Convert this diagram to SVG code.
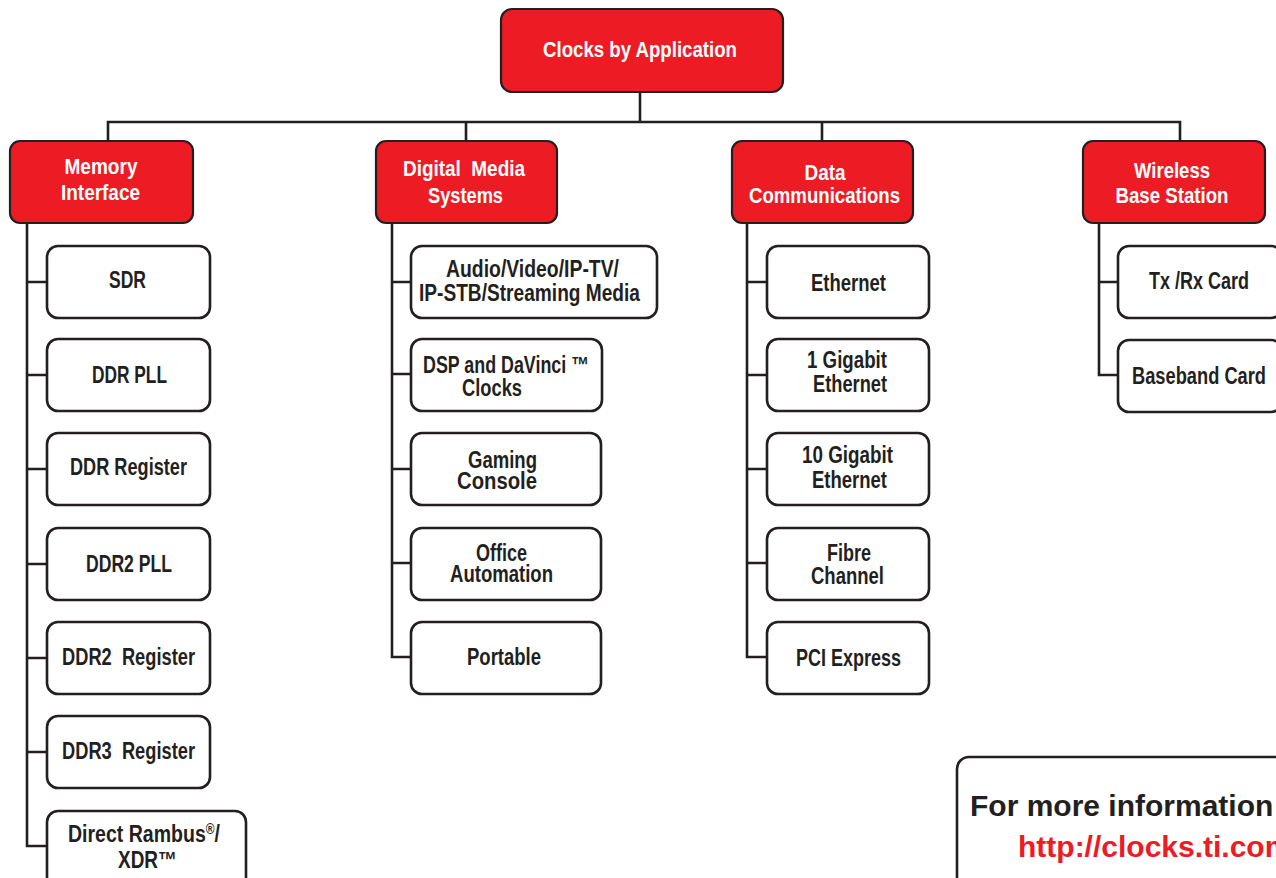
<svg xmlns="http://www.w3.org/2000/svg" width="1276" height="878" viewBox="0 0 1276 878">
<style>
.red{fill:#ed1c24;stroke:#231f20;stroke-width:2.2}
.box{fill:#fff;stroke:#231f20;stroke-width:2.6}
.wt{font-family:"Liberation Sans",Arial,sans-serif;font-weight:bold;font-size:22px;fill:#fff;text-anchor:middle;white-space:pre}
.bt{font-family:"Liberation Sans",Arial,sans-serif;font-weight:bold;font-size:23px;fill:#231f20;text-anchor:middle;white-space:pre}
.bl{font-family:"Liberation Sans",Arial,sans-serif;font-weight:bold;font-size:23px;fill:#231f20;white-space:pre}
.ln{fill:none;stroke:#231f20;stroke-width:2.6}
</style>
<rect width="1276" height="878" fill="#fff"/>
<g id="connectors">
<path class="ln" d="M640 92V122M108 141V122H1180V141M466 122V141M822 122V141"/>
<path class="ln" d="M27 223V846H47M27 282H47M27 375H47M27 469H47M27 564H47M27 658H47M27 752H47"/>
<path class="ln" d="M392 223V657H411M392 282H411M392 374H411M392 469H411M392 563H411"/>
<path class="ln" d="M747 223V657H767M747 282H767M747 375H767M747 469H767M747 563H767"/>
<path class="ln" d="M1099 223V375H1118M1099 282H1118"/>
</g>
<g id="root">
<rect class="red" x="501" y="9" width="282" height="83" rx="11"/>
<text class="wt" x="640" y="57" font-size="23" textLength="194" lengthAdjust="spacingAndGlyphs">Clocks by Application</text>
</g>
<g id="memory">
<rect class="red" x="10" y="141" width="183" height="82" rx="10"/>
<text class="wt" x="101" y="174" textLength="73" lengthAdjust="spacingAndGlyphs">Memory</text>
<text class="wt" x="100.5" y="200" textLength="79" lengthAdjust="spacingAndGlyphs">Interface</text>
</g>
<g id="digital">
<rect class="red" x="376" y="141" width="181" height="82" rx="10"/>
<text class="wt" x="464" y="176" textLength="122" lengthAdjust="spacingAndGlyphs">Digital  Media</text>
<text class="wt" x="465.5" y="203" textLength="75" lengthAdjust="spacingAndGlyphs">Systems</text>
</g>
<g id="datacomm">
<rect class="red" x="732" y="141" width="181" height="82" rx="10"/>
<text class="wt" x="825" y="180" textLength="41" lengthAdjust="spacingAndGlyphs">Data</text>
<text class="wt" x="824.5" y="203" textLength="151" lengthAdjust="spacingAndGlyphs">Communications</text>
</g>
<g id="wireless">
<rect class="red" x="1083" y="141" width="182" height="82" rx="10"/>
<text class="wt" x="1172" y="178" textLength="76" lengthAdjust="spacingAndGlyphs">Wireless</text>
<text class="wt" x="1172" y="203" textLength="113" lengthAdjust="spacingAndGlyphs">Base Station</text>
</g>
<g id="sdr"><rect class="box" x="47" y="246" width="163" height="72" rx="11"/>
<text class="bt" x="127.5" y="288" textLength="37" lengthAdjust="spacingAndGlyphs">SDR</text></g>
<g id="ddrpll"><rect class="box" x="47" y="339" width="163" height="72" rx="11"/>
<text class="bt" x="129.5" y="383" textLength="75" lengthAdjust="spacingAndGlyphs">DDR PLL</text></g>
<g id="ddrreg"><rect class="box" x="47" y="433" width="163" height="72" rx="11"/>
<text class="bt" x="128.5" y="475" textLength="117" lengthAdjust="spacingAndGlyphs">DDR Register</text></g>
<g id="ddr2pll"><rect class="box" x="47" y="528" width="163" height="72" rx="11"/>
<text class="bt" x="129" y="572" textLength="86" lengthAdjust="spacingAndGlyphs">DDR2 PLL</text></g>
<g id="ddr2reg"><rect class="box" x="47" y="622" width="163" height="72" rx="11"/>
<text class="bt" x="128.5" y="665" textLength="133" lengthAdjust="spacingAndGlyphs">DDR2  Register</text></g>
<g id="ddr3reg"><rect class="box" x="47" y="716" width="163" height="72" rx="11"/>
<text class="bt" x="128.5" y="759" textLength="133" lengthAdjust="spacingAndGlyphs">DDR3  Register</text></g>
<g id="rambus"><rect class="box" x="47" y="811" width="199" height="80" rx="11"/>
<text class="bl" x="68" y="842" textLength="152" lengthAdjust="spacingAndGlyphs">Direct Rambus<tspan font-size="14" dy="-8">®</tspan><tspan dy="8">/</tspan></text>
<text class="bl" x="118" y="868" textLength="59" lengthAdjust="spacingAndGlyphs">XDR™</text></g>
<g id="audio"><rect class="box" x="411" y="246" width="246" height="72" rx="11"/>
<text class="bt" x="532.5" y="277" textLength="173" lengthAdjust="spacingAndGlyphs">Audio/Video/IP-TV/</text>
<text class="bt" x="529.5" y="301" textLength="221" lengthAdjust="spacingAndGlyphs">IP-STB/Streaming Media</text></g>
<g id="dsp"><rect class="box" x="411" y="339" width="191" height="72" rx="11"/>
<text class="bt" x="506" y="373" textLength="166" lengthAdjust="spacingAndGlyphs">DSP and DaVinci ™</text>
<text class="bt" x="492" y="396" textLength="60" lengthAdjust="spacingAndGlyphs">Clocks</text></g>
<g id="gaming"><rect class="box" x="411" y="433" width="190" height="72" rx="11"/>
<text class="bt" x="502.5" y="468" textLength="69" lengthAdjust="spacingAndGlyphs">Gaming</text>
<text class="bt" x="497" y="489" textLength="80" lengthAdjust="spacingAndGlyphs">Console</text></g>
<g id="office"><rect class="box" x="411" y="528" width="190" height="72" rx="11"/>
<text class="bt" x="501.5" y="561" textLength="51" lengthAdjust="spacingAndGlyphs">Office</text>
<text class="bt" x="501.5" y="582" textLength="103" lengthAdjust="spacingAndGlyphs">Automation</text></g>
<g id="portable"><rect class="box" x="411" y="622" width="190" height="72" rx="11"/>
<text class="bt" x="504" y="665" textLength="74" lengthAdjust="spacingAndGlyphs">Portable</text></g>
<g id="ethernet"><rect class="box" x="767" y="246" width="162" height="72" rx="11"/>
<text class="bt" x="848.5" y="291" textLength="75" lengthAdjust="spacingAndGlyphs">Ethernet</text></g>
<g id="gig1"><rect class="box" x="767" y="339" width="162" height="72" rx="11"/>
<text class="bt" x="847" y="368" textLength="80" lengthAdjust="spacingAndGlyphs">1 Gigabit</text>
<text class="bt" x="850" y="392" textLength="74" lengthAdjust="spacingAndGlyphs">Ethernet</text></g>
<g id="gig10"><rect class="box" x="767" y="433" width="162" height="72" rx="11"/>
<text class="bt" x="847.5" y="463" textLength="91" lengthAdjust="spacingAndGlyphs">10 Gigabit</text>
<text class="bt" x="849.5" y="488" textLength="75" lengthAdjust="spacingAndGlyphs">Ethernet</text></g>
<g id="fibre"><rect class="box" x="767" y="528" width="162" height="72" rx="11"/>
<text class="bt" x="849" y="561" textLength="44" lengthAdjust="spacingAndGlyphs">Fibre</text>
<text class="bt" x="847.5" y="584" textLength="73" lengthAdjust="spacingAndGlyphs">Channel</text></g>
<g id="pci"><rect class="box" x="767" y="622" width="162" height="72" rx="11"/>
<text class="bt" x="848.5" y="666" textLength="105" lengthAdjust="spacingAndGlyphs">PCI Express</text></g>
<g id="txrx"><rect class="box" x="1118" y="246" width="164" height="72" rx="11"/>
<text class="bt" x="1199" y="289" textLength="100" lengthAdjust="spacingAndGlyphs">Tx /Rx Card</text></g>
<g id="baseband"><rect class="box" x="1118" y="340" width="164" height="72" rx="11"/>
<text class="bt" x="1199" y="384" textLength="134" lengthAdjust="spacingAndGlyphs">Baseband Card</text></g>
<g id="info"><rect class="box" x="957" y="757" width="360" height="160" rx="12"/>
<text x="970" y="816" font-family="'Liberation Sans',Arial,sans-serif" font-weight="bold" font-size="30" fill="#231f20">For more information</text>
<text x="1018" y="857" font-family="'Liberation Sans',Arial,sans-serif" font-weight="bold" font-size="30" fill="#ed1c24">http://clocks.ti.com</text></g>
</svg>
